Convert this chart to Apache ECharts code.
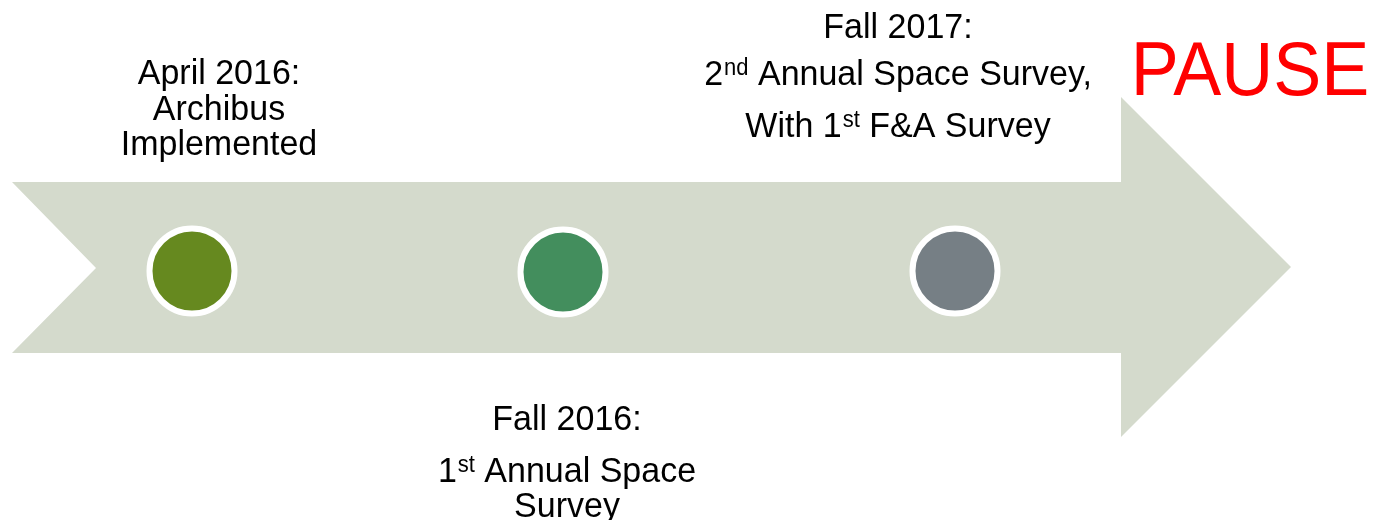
<!DOCTYPE html>
<html>
<head>
    <meta charset="UTF-8">
    <title>Timeline</title>
    <style>
        html, body { margin: 0; padding: 0; background: #fff; }
        #main { width: 1374px; height: 520px; }
    </style>
    <script src="https://cdn.jsdelivr.net/npm/echarts@6/dist/echarts.min.js"></script>
</head>
<body>
    <div id="main"></div>
    <script type="text/javascript">
        // milestones along the arrow (x/y in page units, axes span the whole canvas)
        var milestones = ['April 2016', 'Fall 2016', 'Fall 2017'];
        var milestoneX = [192, 563, 955];
        var milestoneY = [271, 272, 271];

        // outline of the arrow shape
        var arrowX = [12, 1121, 1121, 1291, 1121, 1121, 12, 96];
        var arrowY = [182, 182, 97, 267, 437, 353, 353, 268];

        var dotColors = ['#66891f', '#438e5d', '#767f85'];

        var FONT = '"Liberation Sans", Arial, sans-serif';
        var SY = 1.05; // text in the source is stretched a little vertically

        function line(x, y, text, size, color) {
            size = size || 34;
            return {
                type: 'text',
                x: x,
                y: y + size * 0.07,
                scaleY: SY,
                style: {
                    text: text,
                    x: 0,
                    y: 0,
                    align: 'center',
                    verticalAlign: 'middle',
                    fill: color || '#000',
                    font: size + 'px ' + FONT,
                    rich: {
                        n: { fontSize: size, fontFamily: FONT, lineHeight: 34, verticalAlign: 'top', fill: '#000' },
                        sup: { fontSize: 22, fontFamily: FONT, lineHeight: 16, verticalAlign: 'top', fill: '#000', padding: [0, 0, 0, 1] }
                    }
                },
                z: 10
            };
        }

        var chart = echarts.init(document.getElementById('main'));

        var option = {
            animation: false,
            grid: { left: 0, right: 0, top: 0, bottom: 0 },
            xAxis: { type: 'value', min: 0, max: 1374, show: false },
            yAxis: { type: 'value', min: 0, max: 520, inverse: true, show: false },
            series: [
                {
                    type: 'custom',
                    silent: true,
                    data: [0],
                    renderItem: function (params, api) {
                        var pts = arrowX.map(function (x, i) {
                            return api.coord([x, arrowY[i]]);
                        });
                        return {
                            type: 'polygon',
                            shape: { points: pts },
                            style: { fill: '#d4dacc' }
                        };
                    },
                    z: 1
                },
                {
                    type: 'scatter',
                    symbol: 'circle',
                    symbolSize: 85,
                    data: milestones.map(function (name, i) {
                        return {
                            name: name,
                            value: [milestoneX[i], milestoneY[i]],
                            itemStyle: { color: dotColors[i] }
                        };
                    }),
                    itemStyle: { borderColor: '#fff', borderWidth: 6, opacity: 1 },
                    z: 2
                }
            ],
            graphic: [
                line(219, 72, 'April 2016:'),
                line(219, 108, 'Archibus'),
                line(219, 143, 'Implemented'),

                line(567, 418, 'Fall 2016:'),
                line(567, 470, '{n|1}{sup|st}{n| Annual Space}'),
                line(567, 505, 'Survey'),

                line(898, 26, 'Fall 2017:'),
                line(898, 73, '{n|2}{sup|nd}{n| Annual Space Survey,}'),
                line(898, 125, '{n|With 1}{sup|st}{n| F&A Survey}'),

                line(1250, 69, 'PAUSE', 72, '#ff0000')
            ]
        };

        chart.setOption(option);
    </script>
</body>
</html>
